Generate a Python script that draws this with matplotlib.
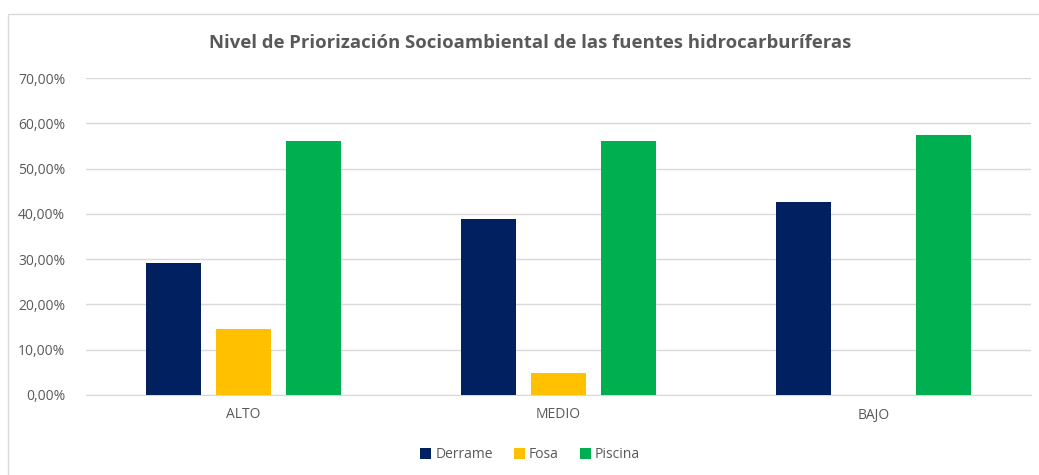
import numpy as np
import matplotlib
matplotlib.use('Agg')
import matplotlib.pyplot as plt
from matplotlib.patches import Rectangle
from matplotlib.ticker import FuncFormatter

categories = ["ALTO", "MEDIO", "BAJO"]
derrame = [29.1, 38.8, 42.6]
fosa = [14.6, 4.8, 0.0]
piscina = [56.1, 56.1, 57.4]

series = {
    "Derrame": (derrame, "#002060"),
    "Fosa": (fosa, "#FFC000"),
    "Piscina": (piscina, "#00B050"),
}

plt.rcParams['font.family'] = ['Open Sans', 'DejaVu Sans']

fig = plt.figure(figsize=(10.39, 4.75), dpi=100)
# marco del gráfico (estilo Excel)
fig.patches.append(Rectangle((8 / 1039, -0.1), 1.2, 1 - 14 / 475 + 0.1,
                             transform=fig.transFigure, fill=False,
                             edgecolor="#D9D9D9", lw=1.0))

ax = fig.add_axes([86 / 1039, 1 - 395 / 475, (1031 - 86) / 1039, (395 - 78) / 475])

x = np.arange(len(categories))
bar_w = 0.175
step = 0.222
for i, (name, (vals, color)) in enumerate(series.items()):
    ax.bar(x + (i - 1) * step, vals, width=bar_w, color=color, label=name, zorder=3)

ax.set_xlim(-0.5, 2.5)
ax.set_ylim(0, 70)
ax.set_yticks(np.arange(0, 71, 10))
ax.yaxis.set_major_formatter(FuncFormatter(lambda v, p: f"{v:.2f}%".replace(".", ",")))
ax.set_xticks(x)
ax.set_xticklabels(categories)
ax.grid(axis='y', color="#D9D9D9", lw=1.0, zorder=0)
for s in ["top", "right", "left"]:
    ax.spines[s].set_visible(False)
ax.spines["bottom"].set_color("#D9D9D9")
ax.tick_params(axis='both', length=0, colors="#595959", labelsize=10)
ax.tick_params(axis='x', pad=9)
ax.tick_params(axis='y', pad=15)

fig.text(530 / 1039, 1 - 43 / 475,
         "Nivel de Priorización Socioambiental de las fuentes hidrocarburíferas",
         ha='center', va='center', fontsize=13.3, fontweight='bold', color="#595959")

ax.legend(loc='center', bbox_to_anchor=(530 / 1039, 1 - 455 / 475),
          bbox_transform=fig.transFigure, ncol=3, frameon=False,
          fontsize=10, handlelength=0.8, handleheight=0.8, handletextpad=0.3,
          columnspacing=1.5, labelcolor="#595959")

plt.savefig("out.png", dpi=100)
